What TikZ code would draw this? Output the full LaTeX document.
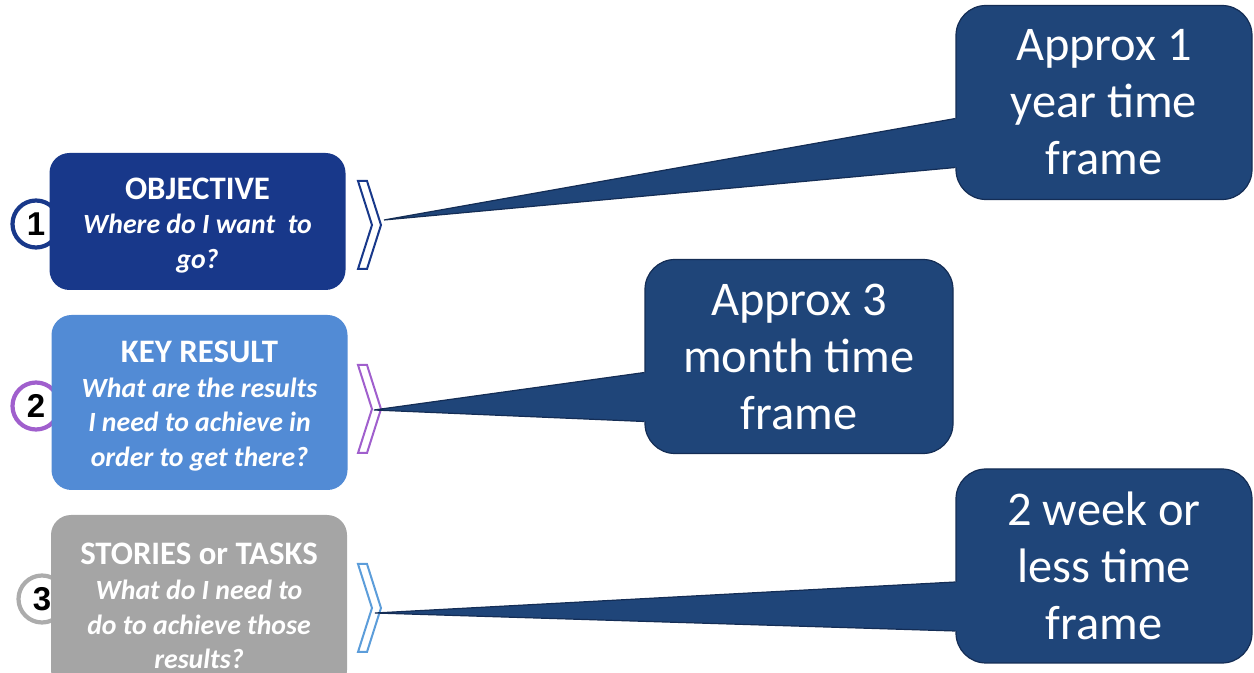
\documentclass[tikz,border=0pt]{standalone}
\usepackage{fontspec}
\setmainfont{Carlito}
\newfontfamily\numfont{Liberation Sans}
\usetikzlibrary{positioning,calc}
\definecolor{objblue}{RGB}{24,56,138}
\definecolor{krblue}{RGB}{82,139,213}
\definecolor{tskgray}{RGB}{165,165,165}
\definecolor{krpurple}{RGB}{160,95,205}
\definecolor{tskring}{RGB}{172,172,172}
\definecolor{tsklight}{RGB}{92,157,218}
\definecolor{callfill}{RGB}{31,69,121}
\definecolor{calledge}{RGB}{20,45,85}
% box heading and question lines
\newcommand\ttl[1]{{\bfseries\fontsize{16.4}{17.3}\selectfont\rule{0pt}{14.5pt}#1}}
\newcommand\qline[1]{{\bfseries\itshape #1}}

\begin{document}
\begin{tikzpicture}[x=0.5pt, y=-0.5pt,
    goal/.style={rectangle, rounded corners=10pt, fill=#1, text=white,
                 inner sep=0pt, align=center, minimum width=148pt,
                 font=\fontsize{13.9}{17.3}\selectfont},
    num/.style={circle, draw=#1, line width=2.1pt, fill=white,
                minimum size=23.5pt, inner sep=0pt,
                font=\numfont\bfseries\fontsize{16.5}{18}\selectfont},
    callout/.style={rectangle, rounded corners=15pt, fill=callfill,
                    draw=calledge, line width=0.6pt, text=white,
                    align=center, minimum width=148pt, minimum height=97pt,
                    font=\fontsize{24.2}{28.5}\selectfont},
    chev/.style={draw=#1, fill=white, line width=1pt, line join=miter}
  ]
  \path[use as bounding box, clip] (0,0) rectangle (1254,673);

  % number rings, behind the boxes
  \node[num=objblue] (n1) at (36,224) {1};
  \node[num=krpurple] (n2) at (36,406) {2};
  \node[num=tskring] (n3) at (42,599) {3};

  % the three levels
  \node[goal=objblue, minimum height=68.5pt] (obj) at (197.5,221.5)
    {\ttl{OBJECTIVE}\\\qline{Where do I want\ \ to}\\\qline{go?}};
  \node[goal=krblue, minimum height=87.5pt] (kr) at (199.5,402.5)
    {\ttl{KEY RESULT}\\\qline{What are the results}\\
     \qline{I need to achieve in}\\\qline{order to get there?}};
  \node[goal=tskgray, minimum height=87.5pt] (tsk) at (199,602.5)
    {\ttl{STORIES or TASKS}\\\qline{What do I need to}\\
     \qline{do to achieve those}\\\qline{results?}};

  % chevrons
  \foreach \cy/\cc in {225/objblue, 409/krpurple, 608/tsklight}
    \draw[chev=\cc] (358,\cy-44) -- ++(9,0) -- (381,\cy) -- (367,\cy+44)
          -- ++(-9,0) -- (372,\cy) -- cycle;

  % time frame callouts
  \node[callout] (c1) at (1104,102.5) {Approx 1\\year time\\frame};
  \node[callout, minimum width=154pt] (c2) at (799,356.5)
    {Approx 3\\month time\\frame};
  \node[callout] (c3) at (1104,566) {2 week or\\less time\\frame};

  \coordinate (t1) at (384,220);
  \coordinate (t2) at (374,410);
  \coordinate (t3) at (375,613);

  % callout pointers
  \foreach \t/\c in {t1/c1, t2/c2, t3/c3} {
    \fill[callfill] (\t) -- ($(\c.west)+(0,16)$) -- ++(4,0) -- ++(0,49)
          -- ($(\c.west)+(0,65)$) -- cycle;
    \draw[calledge, line width=0.6pt] ($(\c.west)+(0,16)$) -- (\t)
          -- ($(\c.west)+(0,65)$);
  }
\end{tikzpicture}
\end{document}
